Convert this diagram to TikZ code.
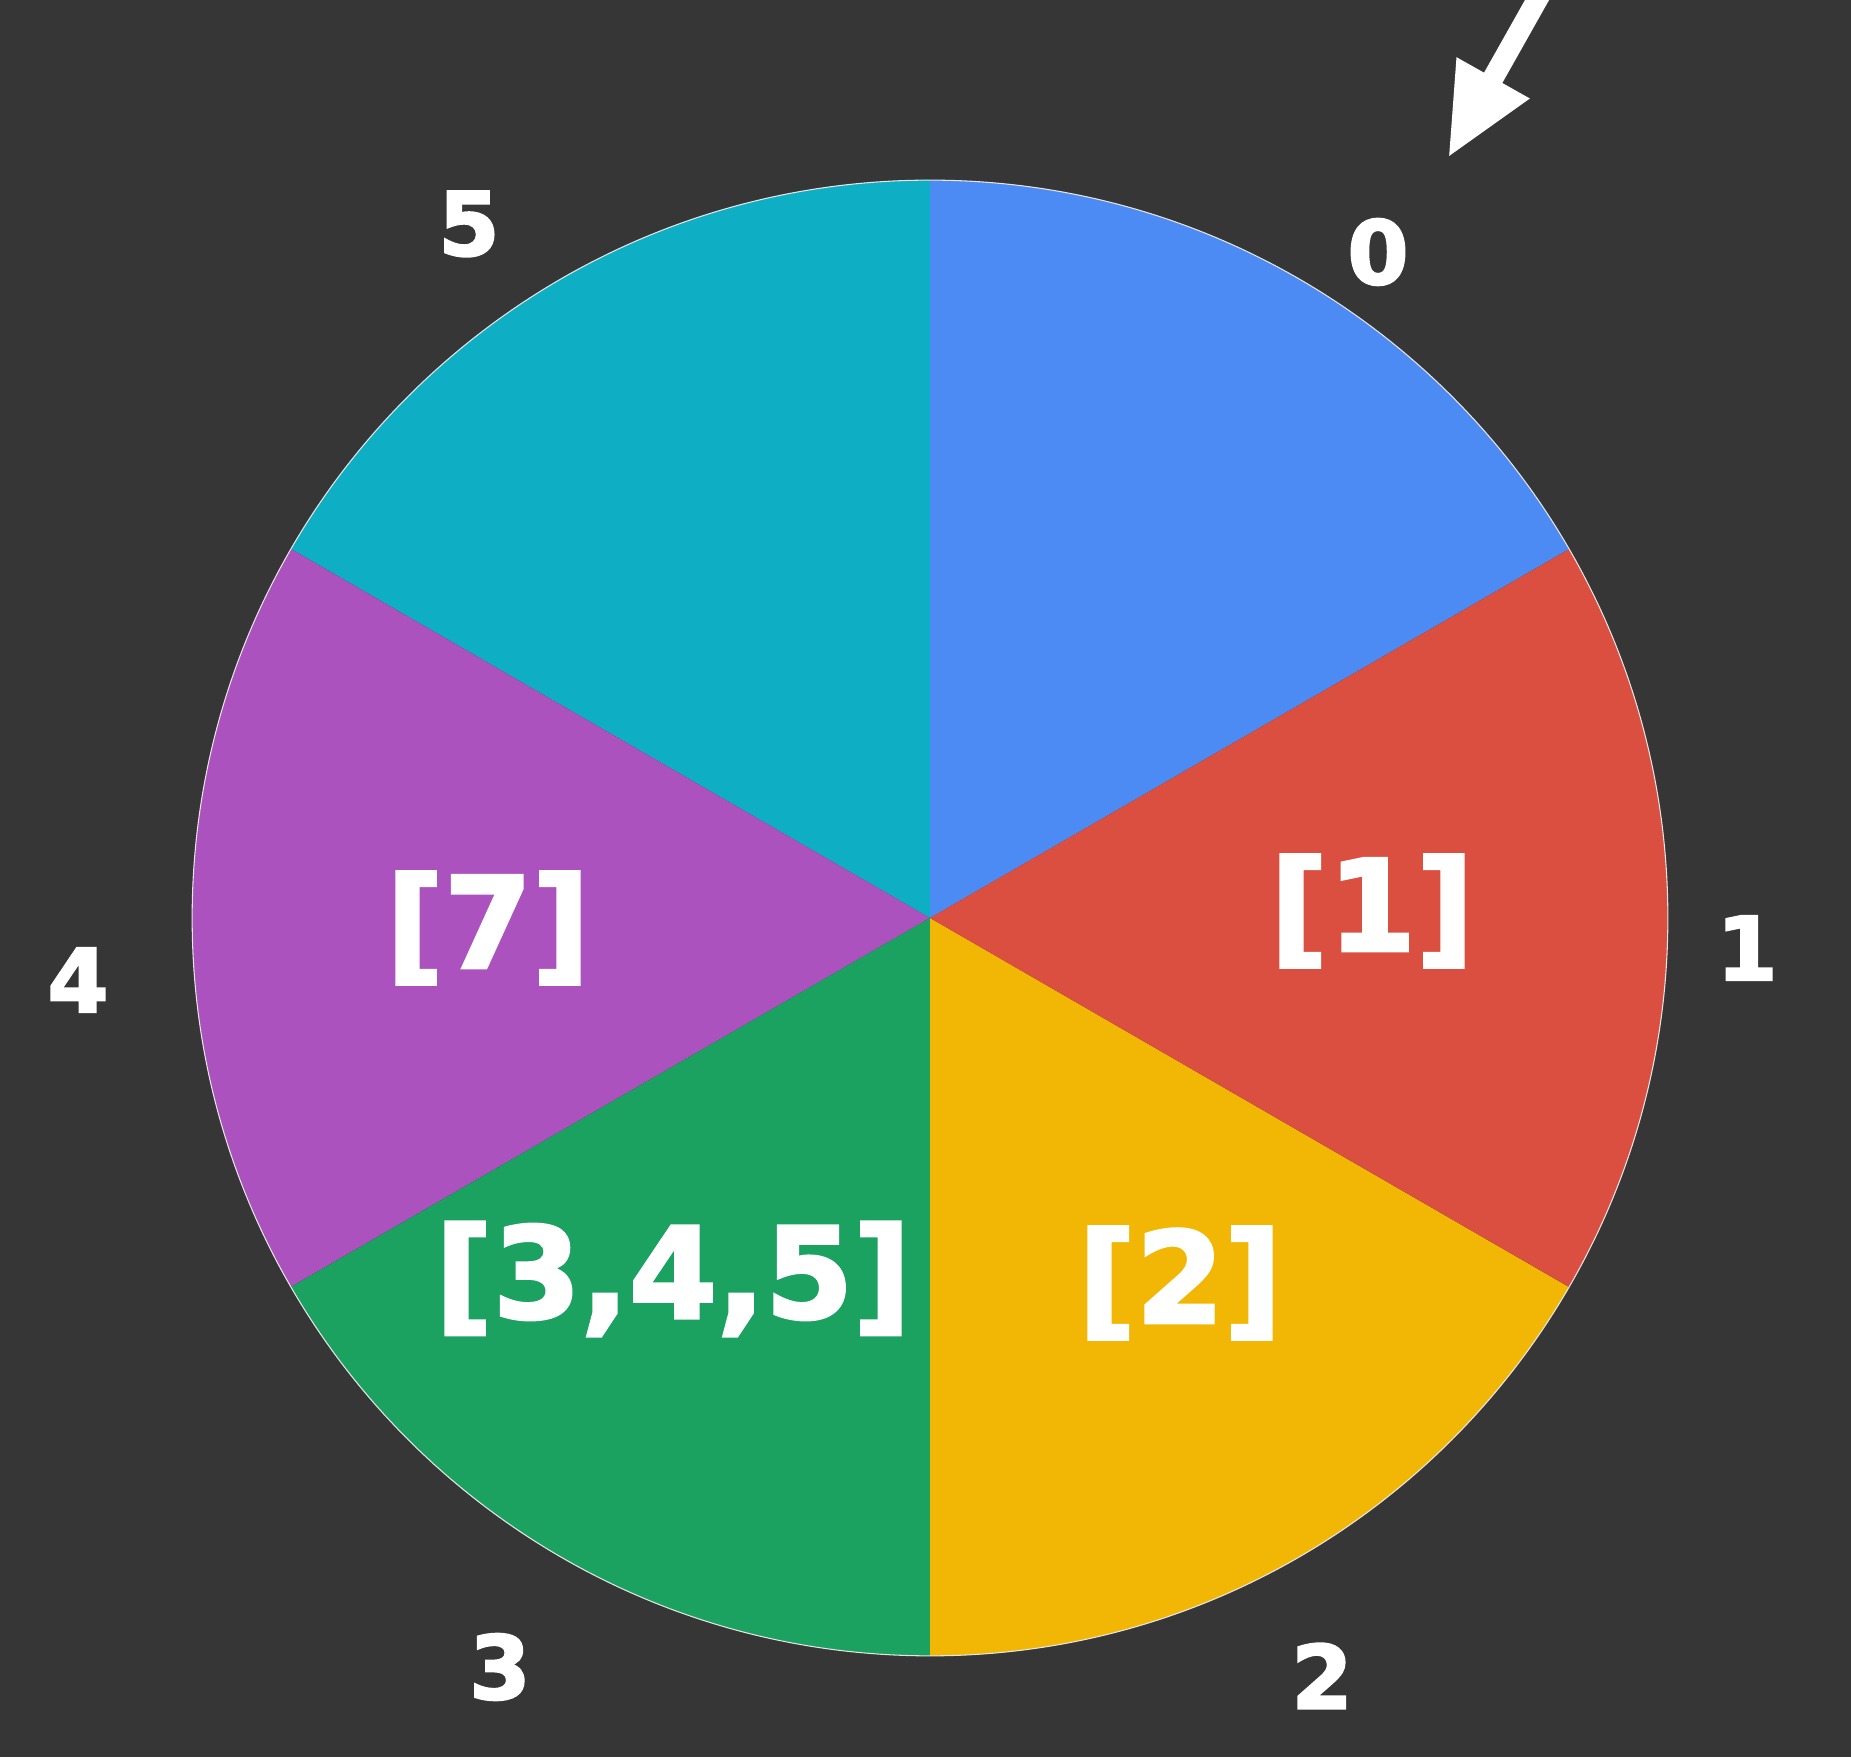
\documentclass[tikz,border=0pt]{standalone}
\usepackage{fontspec}
\setmainfont{DejaVu Sans}
\newfontfamily\blockfont[FakeBold=2.5]{DejaVu Sans Bold}
\usetikzlibrary{arrows.meta}
\definecolor{bg}{HTML}{363636}
\definecolor{sblue}{HTML}{4D8BF4}
\definecolor{sred}{HTML}{DB4F41}
\definecolor{syellow}{HTML}{F2B705}
\definecolor{sgreen}{HTML}{1BA160}
\definecolor{spurple}{HTML}{AB52BF}
\definecolor{scyan}{HTML}{0EAFC4}
\tikzset{
  outer/.style={text=white, font=\blockfont\fontsize{50}{54}\selectfont, inner sep=0pt},
  inner/.style={text=white, font=\blockfont\fontsize{72}{76}\selectfont, inner sep=0pt},
}
\begin{document}
\begin{tikzpicture}[x=0.02cm,y=0.02cm]
\useasboundingbox (0,0) rectangle (1851,1757);
\fill[bg] (0,0) rectangle (1851,1757);
\coordinate (c) at (930,839);
\def\R{14.76cm}
\fill[sblue]   (c) -- ++(30:738)  arc[start angle=30,  end angle=90,  radius=\R] -- cycle;
\fill[scyan]   (c) -- ++(90:738)  arc[start angle=90,  end angle=150, radius=\R] -- cycle;
\fill[spurple] (c) -- ++(150:738) arc[start angle=150, end angle=210, radius=\R] -- cycle;
\fill[sgreen]  (c) -- ++(210:738) arc[start angle=210, end angle=270, radius=\R] -- cycle;
\fill[syellow] (c) -- ++(270:738) arc[start angle=270, end angle=330, radius=\R] -- cycle;
\fill[sred]    (c) -- ++(330:738) arc[start angle=330, end angle=390, radius=\R] -- cycle;
\draw[white!80!gray, line width=0.6pt] (c) circle[radius=\R];
% outer labels
\node[outer] (l0) at (1378,1505) {0};
\node[outer] (l1) at (1747,809) {1};
\node[outer] (l2) at (1322,81) {2};
\node[outer] (l3) at (500,90) {3};
\node[outer] (l4) at (78,777) {4};
\node[outer] (l5) at (469,1533) {5};
% inner labels
\node[inner] (s1) at (1372,846) {[1]};
\node[inner] (s2) at (1180,474) {[2]};
\node[inner] (s345) at (673,478) {[3,4,5]};
\node[inner] (s7) at (488,829) {[7]};
% arrow
\coordinate (atail) at (1550,1780);
\coordinate (ahead) at (1448,1599);
\draw[white, line width=0.42cm, -{Triangle[length=1.84cm,width=1.55cm]}] (atail) -- (ahead);
\end{tikzpicture}
\end{document}
